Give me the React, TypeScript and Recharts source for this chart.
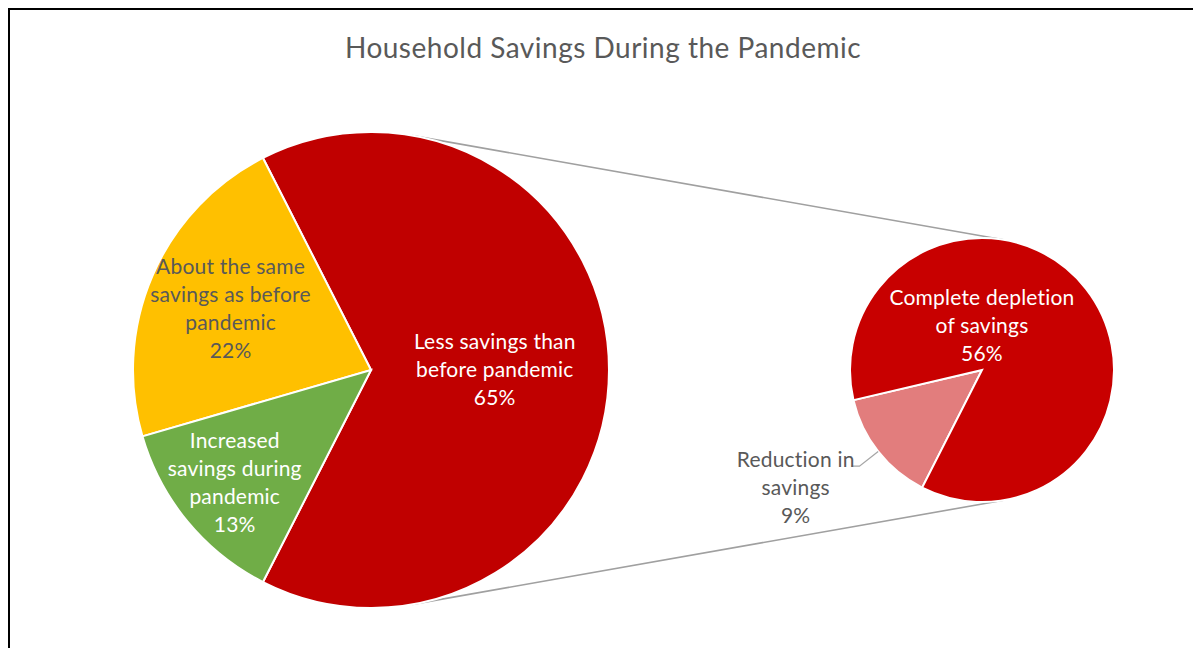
import React from "react";
import { PieChart, Pie, Cell } from "recharts";

// ---- data ----
const mainCategories = [
  "Less savings than before pandemic",
  "About the same savings as before pandemic",
  "Increased savings during pandemic",
];
const mainValues = [65, 22, 13];
const mainLabelLines = [
  ["Less savings than", "before pandemic"],
  ["About the same", "savings as before", "pandemic"],
  ["Increased", "savings during", "pandemic"],
];
const subCategories = ["Reduction in savings", "Complete depletion of savings"];
const subValues = [9, 56];
const subLabelLines = [
  ["Reduction in", "savings"],
  ["Complete depletion", "of savings"],
];
const titleText = "Household Savings During the Pandemic";

// ---- styling / layout ----
const W = 1193;
const H = 648;
const FONT = 'Lato, "Open Sans", "Noto Sans", sans-serif';
const mainColors = ["#C00000", "#FFC000", "#70AD47"];
const mainTextColors = ["#FFFFFF", "#595959", "#FFFFFF"];
const subColors = ["#E27D7D", "#C80000"];
const subTextColors = ["#595959", "#FFFFFF"];
const MAIN = { cx: 371, cy: 370, r: 238 };
const SUB = { cx: 982, cy: 370, r: 132 };
const MAIN_LABEL_RATIO = [0.52, 0.643, 0.743];
const SUB_LABEL_POS: { angle: number | null; ratio: number }[] = [
  { angle: 212.3, ratio: 1.67 },
  { angle: 90, ratio: 0.33 },
];
const LINE_H = 28;
const LABEL_SIZE = 21;
const TEXT_SHIFT = -2;
const RAD = Math.PI / 180;

const mainData = mainCategories.map((name, i) => ({ name, value: mainValues[i] }));
const subData = subCategories.map((name, i) => ({ name, value: subValues[i] }));

function MultiLine({ x, y, lines, color }: { x: number; y: number; lines: string[]; color: string }) {
  const y0 = y - ((lines.length - 1) / 2) * LINE_H + TEXT_SHIFT;
  return (
    <text
      x={x}
      y={y0}
      textAnchor="middle"
      dominantBaseline="central"
      fill={color}
      style={{ fontFamily: FONT, fontSize: LABEL_SIZE, letterSpacing: 0.2 }}
    >
      {lines.map((l, k) => (
        <tspan key={k} x={x} dy={k === 0 ? 0 : LINE_H}>
          {l}
        </tspan>
      ))}
    </text>
  );
}

const renderMainLabel = (p: any) => {
  const i = p.index;
  const rr = p.outerRadius * MAIN_LABEL_RATIO[i];
  const x = p.cx + rr * Math.cos(-p.midAngle * RAD);
  const y = p.cy + rr * Math.sin(-p.midAngle * RAD);
  return (
    <MultiLine
      key={`ml${i}`}
      x={x}
      y={y}
      lines={[...mainLabelLines[i], `${mainValues[i]}%`]}
      color={mainTextColors[i]}
    />
  );
};

const renderSubLabel = (p: any) => {
  const i = p.index;
  const pos = SUB_LABEL_POS[i];
  const ang = pos.angle == null ? p.midAngle : pos.angle;
  const rr = p.outerRadius * pos.ratio;
  const x = p.cx + rr * Math.cos(-ang * RAD);
  const y = p.cy + rr * Math.sin(-ang * RAD);
  const lines = [...subLabelLines[i], `${subValues[i]}%`];
  let leader = null;
  if (pos.ratio > 1) {
    const ex = p.cx + p.outerRadius * Math.cos(-p.midAngle * RAD);
    const ey = p.cy + p.outerRadius * Math.sin(-p.midAngle * RAD);
    const bx = p.cx + p.outerRadius * 1.18 * Math.cos(-p.midAngle * RAD);
    const by = p.cy + p.outerRadius * 1.18 * Math.sin(-p.midAngle * RAD);
    leader = (
      <polyline
        points={`${ex},${ey} ${bx},${by} ${bx - 8},${by}`}
        fill="none"
        stroke="#A6A6A6"
        strokeWidth={1.3}
      />
    );
  }
  return (
    <g key={`sl${i}`}>
      {leader}
      <MultiLine x={x} y={y} lines={lines} color={subTextColors[i]} />
    </g>
  );
};

function connectorLines() {
  // external tangents between the two circles
  const d = SUB.cx - MAIN.cx;
  const th = Math.asin((MAIN.r - SUB.r) / d);
  const sx = Math.sin(th);
  const cy = Math.cos(th);
  return [-1, 1].map((s) => ({
    x1: MAIN.cx + MAIN.r * sx,
    y1: MAIN.cy + s * MAIN.r * cy,
    x2: SUB.cx + SUB.r * sx,
    y2: SUB.cy + s * SUB.r * cy,
  }));
}

export default function App() {
  const lines = connectorLines();
  return (
    <div
      style={{
        position: "absolute",
        left: 0,
        top: 0,
        width: W,
        height: H,
        overflow: "hidden",
        background: "#fff",
        fontFamily: FONT,
      }}
    >
      <div
        style={{
          position: "absolute",
          left: 8,
          top: 8,
          width: W,
          height: H,
          borderTop: "2px solid #000",
          borderLeft: "2px solid #000",
          boxSizing: "border-box",
        }}
      />
      <svg width={W} height={H} style={{ position: "absolute", left: 0, top: 0 }}>
        <text
          x={603}
          y={47}
          textAnchor="middle"
          dominantBaseline="central"
          fill="#595959"
          style={{ fontFamily: FONT, fontSize: 28, letterSpacing: 0.5 }}
        >
          {titleText}
        </text>
        {lines.map((l, k) => (
          <line key={k} {...l} stroke="#A0A0A0" strokeWidth={1.6} />
        ))}
      </svg>
      <div style={{ position: "absolute", left: 0, top: 0 }}>
        <PieChart width={W} height={H} margin={{ top: 0, right: 0, bottom: 0, left: 0 }}>
          <Pie
            data={mainData}
            dataKey="value"
            nameKey="name"
            cx={MAIN.cx}
            cy={MAIN.cy}
            outerRadius={MAIN.r}
            startAngle={-117}
            endAngle={243}
            stroke="#FFFFFF"
            strokeWidth={2}
            label={renderMainLabel}
            labelLine={false}
            isAnimationActive={false}
          >
            {mainData.map((_, i) => (
              <Cell key={i} fill={mainColors[i]} />
            ))}
          </Pie>
          <Pie
            data={subData}
            dataKey="value"
            nameKey="name"
            cx={SUB.cx}
            cy={SUB.cy}
            outerRadius={SUB.r}
            startAngle={193.2}
            endAngle={553.2}
            stroke="#FFFFFF"
            strokeWidth={2}
            label={renderSubLabel}
            labelLine={false}
            isAnimationActive={false}
          >
            {subData.map((_, i) => (
              <Cell key={i} fill={subColors[i]} />
            ))}
          </Pie>
        </PieChart>
      </div>
    </div>
  );
}
